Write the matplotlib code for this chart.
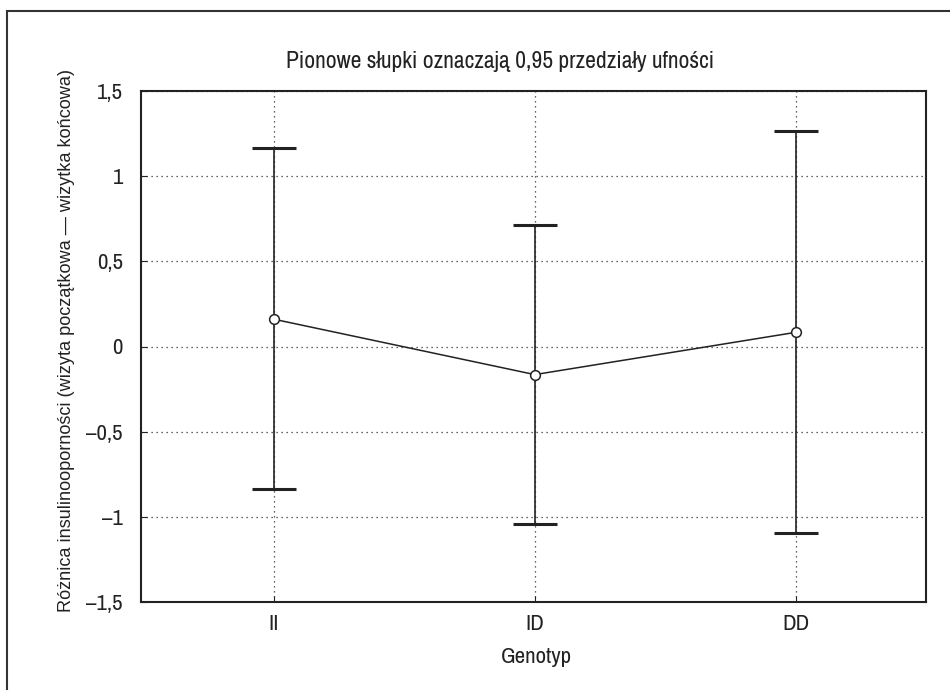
import matplotlib
matplotlib.use("Agg")
import matplotlib.pyplot as plt
from matplotlib.patches import Rectangle

categories = ["II", "ID", "DD"]
means = [0.16, -0.165, 0.083]
upper = [1.168, 0.714, 1.268]
lower = [-0.838, -1.044, -1.097]
ytick_values = [-1.5, -1.0, -0.5, 0.0, 0.5, 1.0, 1.5]
ytick_labels = ["\u20131,5", "\u20131", "\u20130,5", "0", "0,5", "1", "1,5"]

title = "Pionowe słupki oznaczają 0,95 przedziały ufności"
xlabel = "Genotyp"
ylabel = "Różnica insulinooporności (wizyta początkowa \u2014 wizytka końcowa)"

narrow = ["Archivo Narrow", "DejaVu Sans"]
regular = ["Liberation Sans", "DejaVu Sans"]
ink = "#222222"

W, H = 950, 690
fig = plt.figure(figsize=(W / 100, H / 100), dpi=100)

# axes in pixels: left 141, right 926, top 91, bottom 602
L, R, T, B = 141, 926, 91, 602
ax = fig.add_axes([L / W, 1 - B / H, (R - L) / W, (B - T) / H])

x = list(range(len(categories)))
err_lo = [m - lo for m, lo in zip(means, lower)]
err_hi = [u - m for m, u in zip(means, upper)]

ax.errorbar(x, means, yerr=[err_lo, err_hi], fmt="none", ecolor=ink,
            elinewidth=1.2, capsize=16, capthick=2.2, zorder=3)
ax.plot(x, means, color=ink, linewidth=1.1, marker="o", markersize=7,
        markerfacecolor="white", markeredgecolor=ink, markeredgewidth=1.1,
        zorder=4)

ax.set_xlim(-0.51, 2.50)
ax.set_ylim(-1.5, 1.5)
ax.set_xticks(x)
ax.set_xticklabels(categories, fontfamily=narrow, fontsize=16.5, color=ink)
ax.set_yticks(ytick_values)
ax.set_yticklabels(ytick_labels, fontfamily=narrow, fontsize=16.5, color=ink)
ax.tick_params(axis="both", direction="in", length=4, width=0.8, color=ink)
ax.tick_params(axis="y", pad=13)
ax.tick_params(axis="x", pad=9)
ax.grid(True, linestyle=(0, (1, 3)), color="#333333", linewidth=0.9)
ax.set_axisbelow(True)
for s in ax.spines.values():
    s.set_linewidth(1.5)
    s.set_color(ink)

fig.text(500 / W, 1 - 62 / H, title, ha="center", va="center",
         fontfamily=narrow, fontsize=17, color=ink)
fig.text(536 / W, 1 - 657 / H, xlabel, ha="center", va="center",
         fontfamily=narrow, fontsize=16.5, color=ink)
fig.text(67 / W, 1 - 340 / H, ylabel, ha="center", va="center", rotation=90,
         fontfamily=regular, fontsize=13.1, color=ink)

fig.patches.append(Rectangle((7 / W, -0.1), 1.2, 1 - 11 / H + 0.1,
                             transform=fig.transFigure, fill=False,
                             edgecolor="#333333", linewidth=1.5))

fig.savefig("out.png", dpi=100, facecolor="white")
